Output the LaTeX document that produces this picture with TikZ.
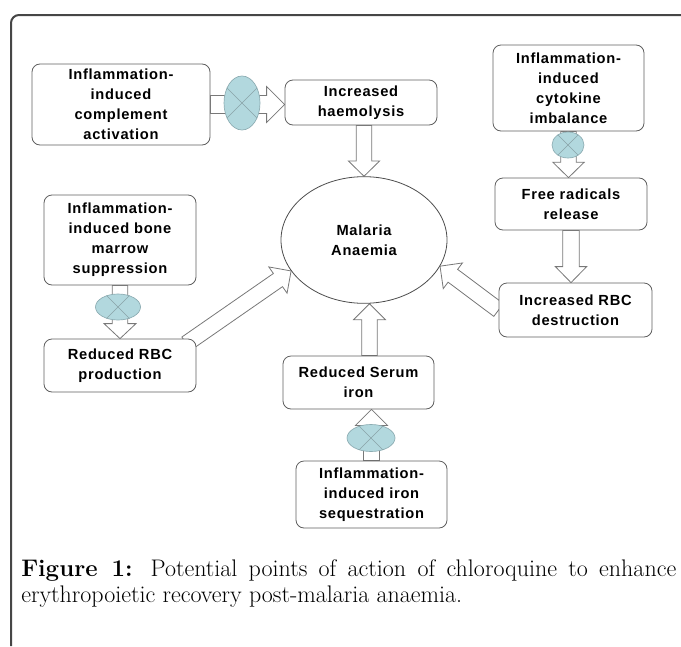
\documentclass[tikz,border=0pt]{standalone}
\usepackage{fontspec}
\newfontfamily\boxfont[LetterSpace=5]{Liberation Sans}
\usetikzlibrary{shapes.geometric,calc,backgrounds}
\definecolor{boxline}{RGB}{95,95,95}
\definecolor{frameline}{RGB}{70,70,70}
\definecolor{arrline}{RGB}{120,120,120}
\definecolor{chqfill}{RGB}{178,216,222}
\definecolor{chqline}{RGB}{140,172,178}
\tikzset{
  sbox/.style={draw=boxline, fill=white, rounded corners=6pt, align=center, inner sep=2pt,
    minimum width=114pt, line width=0.6pt,
    font={\boxfont\bfseries\fontsize{11}{15}\selectfont}},
  hub/.style={ellipse, draw=boxline!80!black, fill=white, inner sep=0pt, line width=0.6pt,
    minimum width=124.5pt, minimum height=95pt, align=center,
    font={\boxfont\bfseries\fontsize{11}{15}\selectfont}},
  chq/.style={ellipse, draw=chqline, fill=chqfill, inner sep=0pt, line width=0.5pt},
  chqx/.style={draw=chqline!80!gray, line width=0.5pt},
  blockarr/.style={draw=arrline, fill=white, line width=0.6pt, line join=miter},
  frame/.style={draw=frameline, line width=1.5pt, rounded corners=6pt},
  caption/.style={text width=491.25pt, align=justify, inner sep=0pt,
    font={\fontsize{18}{20}\selectfont}}
}
% hollow block arrow: start, tip, shaft half width, head half width, head length
\newcommand{\blockarrow}[5]{%
  \path ($(#2)!#5!(#1)$) coordinate (bh);
  \draw[blockarr] ($(#1)!#3!90:(#2)$) -- ($(bh)!#3!90:(#2)$) -- ($(bh)!#4!90:(#2)$) -- (#2)
    -- ($(bh)!#4!-90:(#2)$) -- ($(bh)!#3!-90:(#2)$) -- ($(#1)!#3!-90:(#2)$) -- cycle;
}

\begin{document}
\begin{tikzpicture}[x=0.75pt, y=-0.75pt]
  \useasboundingbox (0,0) rectangle (681,646);
  \draw[frame] (681,15) -| (11,646);

  % boxes
  \node[sbox, minimum width=133.5pt, minimum height=60.75pt] (compl) at (121,104.5) {Inflammation-\\induced\\complement\\activation};
  \node[sbox, minimum height=33.75pt] (hae) at (361,102.5) {Increased\\haemolysis};
  \node[sbox, minimum width=113.25pt, minimum height=64.5pt] (cyto) at (568.5,88) {Inflammation-\\induced\\cytokine\\imbalance};
  \node[sbox, minimum height=39pt] (rad) at (571,204) {Free radicals\\release};
  \node[sbox, minimum width=114.75pt, minimum height=40.5pt] (destr) at (575.5,310) {Increased RBC\\destruction};
  \node[sbox, minimum height=67.5pt] (marrow) at (120,240) {Inflammation-\\induced bone\\marrow\\suppression};
  \node[sbox, minimum height=39.75pt] (prod) at (120,365.5) {Reduced RBC\\production};
  \node[sbox, minimum width=113.25pt, minimum height=39.75pt] (serum) at (358.5,382.5) {Reduced Serum\\iron};
  \node[sbox, minimum width=113.25pt, minimum height=50.25pt] (seq) at (371.5,494.5) {Inflammation-\\induced iron\\sequestration};
  \node[hub] (anaemia) at (364,240) {Malaria\\Anaemia};

  % chloroquine action points
  \node[chq, minimum width=27pt, minimum height=40.5pt] (chq1) at (242,103) {};
  \node[chq, minimum width=24pt, minimum height=19.5pt] (chq2) at (568,145) {};
  \node[chq, minimum width=33.75pt, minimum height=19.5pt] (chq3) at (118,307) {};
  \node[chq, minimum width=36pt, minimum height=20.25pt] (chq4) at (371,438) {};
  \foreach \s in {chq1,chq2,chq3,chq4}
    \draw[chqx] (\s.45) -- (\s.225) (\s.135) -- (\s.315);

  % arrows
  \coordinate (a1) at (hae.west |- compl.east);
  \coordinate (a2) at (anaemia.north |- hae.south);
  \coordinate (a3) at (cyto.south |- rad.north);
  \coordinate (a4) at (rad.south |- destr.north);
  \coordinate (a5) at ($(prod.north east)+(-10,5)$);
  \coordinate (a6) at ($(serum.north)+(11,0)$);
  \coordinate (a7) at (a6 |- anaemia.south);
  \coordinate (a8) at (seq.north |- serum.south);
  \coordinate (a9) at (marrow.south |- prod.north);
  \begin{scope}[on background layer]
    \blockarrow{compl.east}{a1}{6.75pt}{13.5pt}{13.5pt}
    \blockarrow{a2}{anaemia.north}{5.75pt}{11.75pt}{11.5pt}
    \blockarrow{cyto.south}{a3}{5.75pt}{11.75pt}{11.5pt}
    \blockarrow{rad.south}{a4}{6.25pt}{11.75pt}{12pt}
    \blockarrow{destr.west}{anaemia.-19}{6pt}{12pt}{12pt}
    \blockarrow{a5}{anaemia.203}{6pt}{12pt}{12pt}
    \blockarrow{a6}{a7}{5.75pt}{12pt}{12pt}
    \blockarrow{seq.north}{a8}{6pt}{12pt}{12pt}
    \blockarrow{marrow.south}{a9}{5.75pt}{12pt}{11.25pt}
  \end{scope}

  \node[caption, anchor=north west] (cap) at (21,559)
    {\textbf{Figure 1:} Potential points of action of chloroquine to enhance\linebreak erythropoietic recovery post-malaria anaemia.};
\end{tikzpicture}
\end{document}
